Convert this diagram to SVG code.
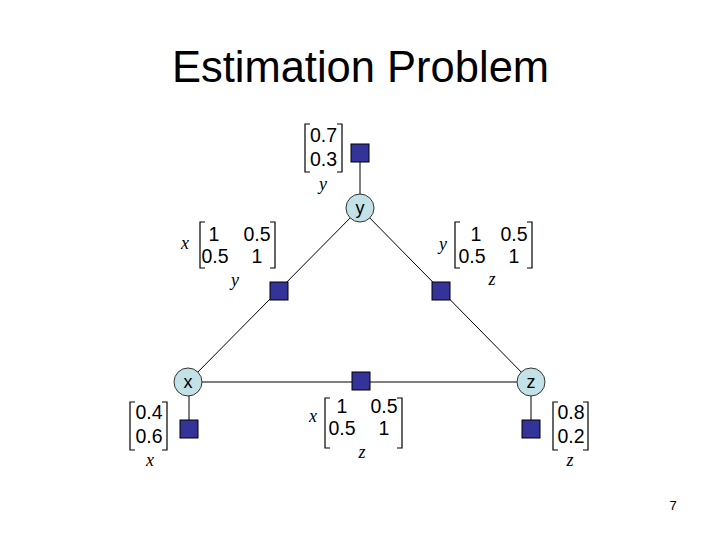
<svg xmlns="http://www.w3.org/2000/svg" width="720" height="540" viewBox="0 0 720 540">
<style>
.title{font-family:"Liberation Sans",Arial,sans-serif;font-size:43.5px;fill:#000}
.num{font-family:"Liberation Sans",Arial,sans-serif;font-size:19.5px;fill:#000}
.var{font-family:"Liberation Serif","Times New Roman",serif;font-style:italic;font-size:18px;fill:#000}
.nlab{font-family:"Liberation Sans",Arial,sans-serif;font-size:18px;fill:#000}
.pg{font-family:"Liberation Sans",Arial,sans-serif;font-size:13px;fill:#000}
.node{fill:#c2e2e8;stroke:#333;stroke-width:1}
.fac{fill:#333399;stroke:#000;stroke-width:1}
.edge{stroke:#000;stroke-width:1;fill:none}
.br{stroke:#000;stroke-width:1.2;fill:none}
</style>
<rect width="720" height="540" fill="#fff"/>
<text class="title" x="360.5" y="82" text-anchor="middle">Estimation Problem</text>
<g id="connectors">
<line class="edge" x1="188" y1="382" x2="360" y2="208"/>
<line class="edge" x1="360" y1="208" x2="531" y2="382"/>
<line class="edge" x1="188" y1="382" x2="531" y2="382"/>
<line class="edge" x1="360" y1="153" x2="360" y2="208"/>
<line class="edge" x1="189" y1="382" x2="189" y2="429"/>
<line class="edge" x1="531" y1="382" x2="531" y2="429"/>
</g>
<g id="node-y"><circle class="node" cx="360" cy="208" r="14"/><text class="nlab" x="360" y="214" text-anchor="middle">y</text></g>
<g id="node-x"><circle class="node" cx="188" cy="382" r="14"/><text class="nlab" x="188" y="388" text-anchor="middle">x</text></g>
<g id="node-z"><circle class="node" cx="531" cy="382" r="14"/><text class="nlab" x="531" y="388" text-anchor="middle">z</text></g>
<g id="factor-y"><rect class="fac" x="351" y="144" width="18" height="18"/></g>
<g id="factor-x"><rect class="fac" x="180" y="420" width="18" height="18"/></g>
<g id="factor-z"><rect class="fac" x="522" y="420" width="18" height="18"/></g>
<g id="factor-xy"><rect class="fac" x="270" y="282" width="18" height="18"/></g>
<g id="factor-yz"><rect class="fac" x="432" y="282" width="18" height="18"/></g>
<g id="factor-xz"><rect class="fac" x="352" y="372" width="18" height="18"/></g>
<g id="matrix-y">
<path class="br" d="M310,124 H305 V172 H310 M337,124 H342 V172 H337"/>
<text class="num" x="323.5" y="142" text-anchor="middle">0.7</text>
<text class="num" x="323.5" y="166" text-anchor="middle">0.3</text>
<text class="var" x="323" y="190" text-anchor="middle">y</text>
</g>
<g id="matrix-xy">
<text class="var" x="185" y="249" text-anchor="middle">x</text>
<path class="br" d="M205,222 H200 V268 H205 M270,222 H275 V268 H270"/>
<text class="num" x="214" y="241" text-anchor="middle">1</text>
<text class="num" x="257" y="241" text-anchor="middle">0.5</text>
<text class="num" x="215" y="263" text-anchor="middle">0.5</text>
<text class="num" x="257" y="263" text-anchor="middle">1</text>
<text class="var" x="235" y="286" text-anchor="middle">y</text>
</g>
<g id="matrix-yz">
<text class="var" x="443" y="250" text-anchor="middle">y</text>
<path class="br" d="M460,222 H455 V268 H460 M527,222 H532 V268 H527"/>
<text class="num" x="476" y="241" text-anchor="middle">1</text>
<text class="num" x="514" y="241" text-anchor="middle">0.5</text>
<text class="num" x="472" y="263" text-anchor="middle">0.5</text>
<text class="num" x="514" y="263" text-anchor="middle">1</text>
<text class="var" x="492" y="285" text-anchor="middle">z</text>
</g>
<g id="matrix-xz">
<text class="var" x="313" y="422" text-anchor="middle">x</text>
<path class="br" d="M330,398 H325 V448 H330 M397,398 H402 V448 H397"/>
<text class="num" x="342" y="413" text-anchor="middle">1</text>
<text class="num" x="384" y="413" text-anchor="middle">0.5</text>
<text class="num" x="342" y="435" text-anchor="middle">0.5</text>
<text class="num" x="384" y="435" text-anchor="middle">1</text>
<text class="var" x="362" y="458" text-anchor="middle">z</text>
</g>
<g id="matrix-x">
<path class="br" d="M135,402 H130 V450 H135 M162,402 H167 V450 H162"/>
<text class="num" x="149" y="419" text-anchor="middle">0.4</text>
<text class="num" x="149" y="443" text-anchor="middle">0.6</text>
<text class="var" x="150" y="466" text-anchor="middle">x</text>
</g>
<g id="matrix-z">
<path class="br" d="M558,402 H553 V450 H558 M583,402 H588 V450 H583"/>
<text class="num" x="571" y="419" text-anchor="middle">0.8</text>
<text class="num" x="571" y="443" text-anchor="middle">0.2</text>
<text class="var" x="570" y="466" text-anchor="middle">z</text>
</g>
<text class="pg" x="673" y="510" text-anchor="middle">7</text>
</svg>
